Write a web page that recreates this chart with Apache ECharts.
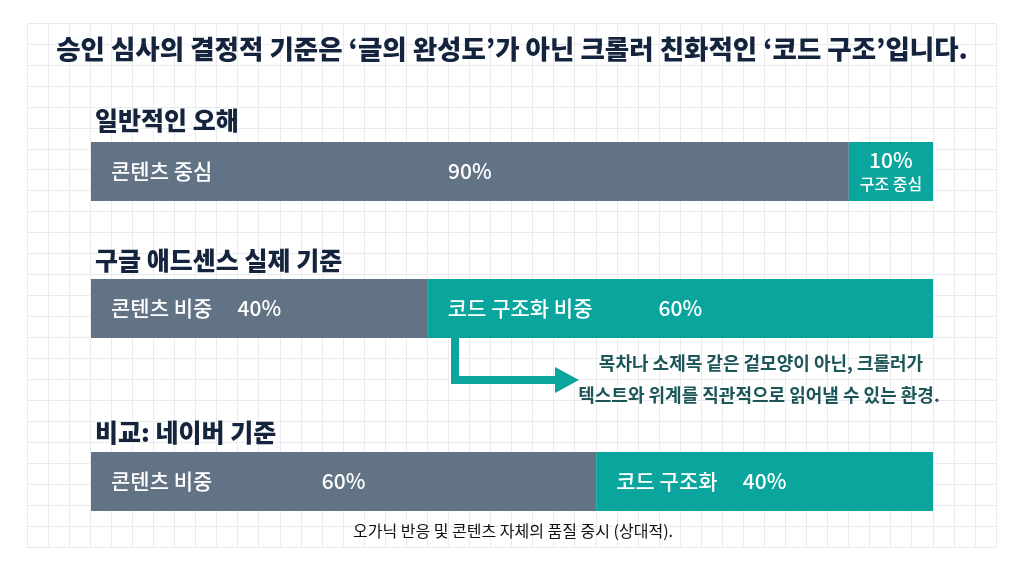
<!DOCTYPE html>
<html>
  <head>
    <meta charset="UTF-8" />
    <title>애드센스 승인 기준</title>
    <script src="https://cdn.jsdelivr.net/npm/echarts@6/dist/echarts.min.js"></script>
    <style>
      html, body { margin: 0; padding: 0; background: #fff; }
    </style>
  </head>
  <body>
    <div id="main"></div>
    <script>
      const width = 1024;
      const height = 572;
      const main = document.getElementById('main');
      main.style.width = `${width}px`;
      main.style.height = `${height}px`;

      const FONT = '"Noto Sans CJK KR", "Noto Sans", sans-serif';

      // data
      const mainTitle = '승인 심사의 결정적 기준은 ‘글의 완성도’가 아닌 크롤러 친화적인 ‘코드 구조’입니다.';
      const groupTitles = ['일반적인 오해', '구글 애드센스 실제 기준', '비교: 네이버 기준'];
      const contentNames = ['콘텐츠 중심', '콘텐츠 비중', '콘텐츠 비중'];
      const contentValues = [90, 40, 60];
      const codeNames = ['구조 중심', '코드 구조화 비중', '코드 구조화'];
      const codeValues = [10, 60, 40];
      const noteLines = ['목차나 소제목 같은 겉모양이 아닌, 크롤러가', '텍스트와 위계를 직관적으로 읽어낼 수 있는 환경.'];
      const footnote = '오가닉 반응 및 콘텐츠 자체의 품질 중시 (상대적).';

      const SLATE = '#637386';
      const TEAL = '#0aa69e';
      const NAVY = '#14243d';

      // bar layout (one grid per bar)
      const barTops = [142, 279, 452];
      const barH = 59;

      const grids = [];
      const xAxes = [];
      const yAxes = [];
      const series = [];

      // background paper grid
      grids.push({ left: 27, top: 23, width: 969, height: 524 });
      xAxes.push({
        gridIndex: 0, type: 'value', min: 0, max: 46, interval: 1,
        axisLine: { show: false }, axisTick: { show: false }, axisLabel: { show: false },
        splitLine: { show: true, lineStyle: { color: '#e9ebee', width: 1 } }
      });
      yAxes.push({
        gridIndex: 0, type: 'value', min: 0, max: 25, interval: 1,
        axisLine: { show: false }, axisTick: { show: false }, axisLabel: { show: false },
        splitLine: { show: true, lineStyle: { color: '#e9ebee', width: 1 } }
      });

      const pctLabel = {
        show: true, position: 'inside', color: '#fff',
        fontFamily: FONT, fontSize: 21, fontWeight: 500
      };
      const nameLabel = {
        show: true, position: 'insideLeft', distance: 20, color: '#fff',
        fontFamily: FONT, fontSize: 21, fontWeight: 500
      };

      barTops.forEach((top, i) => {
        const g = i + 1;
        grids.push({ left: 91, right: 91, top: top, height: barH });
        xAxes.push({ gridIndex: g, type: 'value', min: 0, max: 100, show: false });
        yAxes.push({ gridIndex: g, type: 'category', data: [groupTitles[i]], show: false });

        // coloured segments with percent labels
        series.push({
          type: 'bar', xAxisIndex: g, yAxisIndex: g, stack: 'v' + g,
          barWidth: '100%', itemStyle: { color: SLATE },
          label: Object.assign({}, pctLabel, { formatter: p => p.value + '%' }),
          data: [contentValues[i]]
        });
        series.push({
          type: 'bar', xAxisIndex: g, yAxisIndex: g, stack: 'v' + g,
          barWidth: '100%', itemStyle: { color: TEAL },
          label: i === 0
            ? Object.assign({}, pctLabel, {
                formatter: p => `{a|${p.value}%}\n{b|${codeNames[i]}}`,
                rich: {
                  a: { fontFamily: FONT, fontSize: 21, fontWeight: 500, color: '#fff', lineHeight: 25 },
                  b: { fontFamily: FONT, fontSize: 16, fontWeight: 500, color: '#fff', lineHeight: 22 }
                }
              })
            : Object.assign({}, pctLabel, { formatter: p => p.value + '%' }),
          data: [codeValues[i]]
        });
        // transparent overlay carrying the segment names
        series.push({
          type: 'bar', xAxisIndex: g, yAxisIndex: g, stack: 'n' + g,
          barWidth: '100%', barGap: '-100%', itemStyle: { color: 'rgba(0,0,0,0)' },
          label: Object.assign({}, nameLabel, { formatter: contentNames[i] }),
          z: 3, silent: true,
          data: [contentValues[i]]
        });
        series.push({
          type: 'bar', xAxisIndex: g, yAxisIndex: g, stack: 'n' + g,
          barWidth: '100%', barGap: '-100%', itemStyle: { color: 'rgba(0,0,0,0)' },
          label: Object.assign({}, nameLabel, { show: i !== 0, formatter: codeNames[i] }),
          z: 3, silent: true,
          data: [codeValues[i]]
        });
      });

      const titles = [{
        text: mainTitle, left: 'center', top: 31,
        textStyle: { fontFamily: FONT, fontSize: 26.5, fontWeight: 900, color: NAVY }
      }];
      const groupTitleTops = [103, 243, 415];
      groupTitles.forEach((t, i) => {
        titles.push({
          text: t, left: 90, top: groupTitleTops[i],
          textStyle: { fontFamily: FONT, fontSize: 25, fontWeight: 900, color: NAVY }
        });
      });

      const myChart = echarts.init(main);
      const option = {
        animation: false,
        backgroundColor: '#fff',
        title: titles,
        grid: grids,
        xAxis: xAxes,
        yAxis: yAxes,
        series: series,
        graphic: [
          {
            type: 'polyline', z: 20,
            shape: { points: [[455, 338], [455, 380], [556, 380]] },
            style: { stroke: TEAL, lineWidth: 8, fill: null, lineJoin: 'miter' }
          },
          {
            type: 'polygon', z: 20,
            shape: { points: [[555, 367], [579, 380], [555, 393]] },
            style: { fill: TEAL }
          },
          {
            type: 'text', x: 761, y: 363, z: 20,
            style: {
              text: noteLines[0], align: 'center', verticalAlign: 'middle',
              font: `bold 18px ${FONT}`, fill: '#1c5558'
            }
          },
          {
            type: 'text', x: 759, y: 395, z: 20,
            style: {
              text: noteLines[1], align: 'center', verticalAlign: 'middle',
              font: `bold 18px ${FONT}`, fill: '#1c5558'
            }
          },
          {
            type: 'text', x: 513, y: 531, z: 20,
            style: {
              text: footnote, align: 'center', verticalAlign: 'middle',
              font: `16px ${FONT}`, fill: '#111'
            }
          }
        ]
      };
      myChart.setOption(option);
    </script>
  </body>
</html>
